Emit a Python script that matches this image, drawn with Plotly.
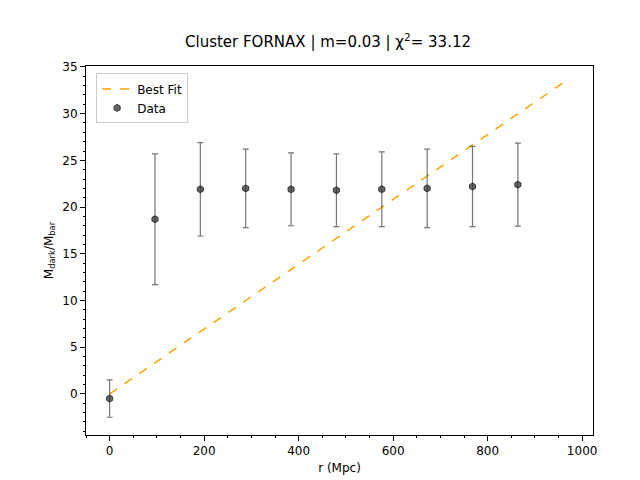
import numpy as np
import plotly.graph_objects as go

r_mpc = [0, 96, 192, 288, 384, 480, 576, 672, 768, 864]
ratio = [-0.5, 18.7, 21.9, 22.0, 21.9, 21.8, 21.9, 22.0, 22.2, 22.4]
err = [2.0, 7.0, 5.0, 4.2, 3.9, 3.9, 4.0, 4.2, 4.3, 4.45]
slope = 0.0347
fit_x = [0, 960]

fig = go.Figure()
fig.add_trace(go.Scatter(
    x=fit_x, y=[slope * v for v in fit_x], mode="lines", name="Best Fit",
    line=dict(color="orange", dash="dash", width=1.5)))
fig.add_trace(go.Scatter(
    x=r_mpc, y=ratio, mode="markers", name="Data",
    marker=dict(symbol="hexagon", size=7, color="rgba(40,40,40,0.7)",
                line=dict(color="rgba(40,40,40,0.9)", width=1)),
    error_y=dict(type="data", array=err, color="rgba(60,60,60,0.7)",
                 thickness=1.2, width=3)))

axis = dict(showgrid=False, zeroline=False, showline=True, mirror=True,
            linecolor="black", ticks="outside", tickcolor="black", automargin=False,
            tickfont=dict(size=12), minor=dict(ticks="outside", ticklen=2, tickcolor="black"))
fig.update_layout(
    width=640, height=480, plot_bgcolor="white", paper_bgcolor="white",
    font=dict(family="DejaVu Sans", color="black"),
    margin=dict(l=78, r=55, t=58, b=53),
    title=dict(text="Cluster FORNAX | m=0.03 | χ<sup>2</sup>= 33.12",
               x=0.5, xanchor="center", y=0.94, font=dict(size=15)),
    xaxis=dict(axis, range=[-50, 1023], dtick=200,
               title=dict(text="r (Mpc)", font=dict(size=12), standoff=6)),
    yaxis=dict(axis, range=[-4.4, 35.1], dtick=5,
               title=dict(text="M<sub>dark</sub>/M<sub>bar</sub>", font=dict(size=12), standoff=6)),
    legend=dict(x=0.02, y=0.98, xanchor="left", yanchor="top",
                bordercolor="#ccc", borderwidth=1, font=dict(size=12)),
)
fig.write_html("out.html")
